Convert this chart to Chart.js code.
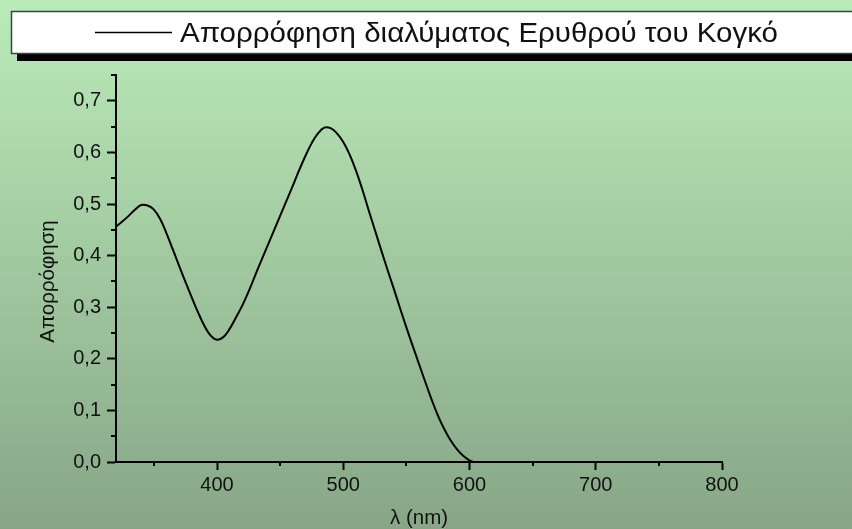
<!DOCTYPE html>
<html>
<head>
<meta charset="utf-8">
<script src="https://cdn.jsdelivr.net/npm/chart.js@4"></script>
<style>
  html, body { margin: 0; padding: 0; background: #a3c9a2; }
  #wrap { width: 852px; height: 529px; position: relative; }
  canvas { display: block; }
</style>
</head>
<body>
<div id="wrap"><canvas id="chart" width="852" height="529"></canvas></div>
<script>
// Absorption spectrum of a Congo red solution (wavelength in nm, absorbance)
const wavelengthNm = [320, 325, 330, 335, 340, 345, 350, 355, 360, 365, 370, 375, 380, 385, 390,
  395, 400, 405, 410, 415, 420, 425, 430, 435, 440, 445, 450, 455, 460, 465, 470, 475, 480, 485,
  490, 495, 500, 505, 510, 515, 520, 525, 530, 535, 540, 545, 550, 555, 560, 565, 570, 575, 580,
  585, 590, 595, 600, 603];
const absorbance = [0.456, 0.466, 0.477, 0.489, 0.498, 0.497, 0.489, 0.471, 0.443, 0.412, 0.380,
  0.349, 0.319, 0.290, 0.264, 0.245, 0.237, 0.242, 0.258, 0.280, 0.303, 0.330, 0.360, 0.390,
  0.419, 0.448, 0.477, 0.506, 0.535, 0.565, 0.593, 0.618, 0.637, 0.648, 0.647, 0.637, 0.620,
  0.596, 0.565, 0.529, 0.489, 0.450, 0.411, 0.373, 0.336, 0.298, 0.261, 0.225, 0.190, 0.155,
  0.121, 0.090, 0.064, 0.042, 0.025, 0.012, 0.003, 0.000];

const seriesLabel = 'Απορρόφηση διαλύματος Ερυθρού του Κογκό';
const xAxisTitle = 'λ (nm)';
const yAxisTitle = 'Απορρόφηση';
const xRange = [320, 800];
const yRange = [0, 0.75];
const xTickValues = [400, 500, 600, 700, 800];
const yTickValues = [0, 0.1, 0.2, 0.3, 0.4, 0.5, 0.6, 0.7];
const xMinorValues = [350, 450, 550, 650, 750];
const yMinorValues = [0.05, 0.15, 0.25, 0.35, 0.45, 0.55, 0.65, 0.75];

const FONT = "'Liberation Sans', Arial, sans-serif";

// Vertical green gradient behind everything
const backgroundPlugin = {
  id: 'bgGradient',
  beforeDraw(chart) {
    const { ctx, width, height } = chart;
    const g = ctx.createLinearGradient(0, 0, 0, height);
    g.addColorStop(0, '#bbebb9');
    g.addColorStop(1, '#87a687');
    ctx.save();
    ctx.fillStyle = g;
    ctx.fillRect(0, 0, width, height);
    ctx.restore();
  }
};

// Short minor ticks halfway between the labelled ones, plus the rotated y title
const axisExtrasPlugin = {
  id: 'axisExtras',
  afterDraw(chart) {
    const { ctx, chartArea } = chart;
    const xs = chart.scales.x, ys = chart.scales.y;
    ctx.save();
    ctx.strokeStyle = '#000';
    ctx.lineWidth = 2;
    ctx.beginPath();
    xMinorValues.forEach(v => {
      const px = Math.round(xs.getPixelForValue(v));
      ctx.moveTo(px, ys.bottom);
      ctx.lineTo(px, ys.bottom + 4);
    });
    yMinorValues.forEach(v => {
      const py = Math.round(ys.getPixelForValue(v));
      ctx.moveTo(xs.left, py);
      ctx.lineTo(xs.left - 5, py);
    });
    ctx.stroke();

    const midY = (chartArea.top + chartArea.bottom) / 2 + 13;
    ctx.translate(53.5, midY);
    ctx.rotate(-Math.PI / 2);
    ctx.fillStyle = '#111';
    ctx.font = '20.5px ' + FONT;
    ctx.textAlign = 'center';
    ctx.textBaseline = 'alphabetic';
    ctx.fillText(yAxisTitle, 0, 0);
    ctx.restore();
  }
};

// Framed legend banner with a drop shadow
const bannerLegendPlugin = {
  id: 'bannerLegend',
  afterDraw(chart) {
    const { ctx, width } = chart;
    const ds = chart.data.datasets[0];
    const bx = 11, by = 11, bh = 42;
    ctx.save();
    ctx.fillStyle = '#000';
    ctx.fillRect(bx + 6, by + 8, width, bh);
    ctx.fillStyle = '#fff';
    ctx.fillRect(bx, by, width, bh);
    ctx.strokeStyle = '#3a463a';
    ctx.lineWidth = 1.5;
    ctx.strokeRect(bx + 0.5, by + 0.5, width + 10, bh);
    ctx.strokeStyle = ds.borderColor;
    ctx.lineWidth = 1.5;
    ctx.beginPath();
    ctx.moveTo(95, 32.5);
    ctx.lineTo(172, 32.5);
    ctx.stroke();
    ctx.fillStyle = '#111';
    ctx.font = '28px ' + FONT;
    ctx.textBaseline = 'alphabetic';
    ctx.textAlign = 'left';
    const w = ctx.measureText(ds.label).width;
    ctx.translate(180, 42.3);
    ctx.scale(598 / w, 1);
    ctx.fillText(ds.label, 0, 0);
    ctx.restore();
  }
};

const decimalComma = v => v.toFixed(1).replace('.', ',');
const tickFont = { family: FONT, size: 20 };

new Chart(document.getElementById('chart'), {
  type: 'scatter',
  data: {
    datasets: [{
      label: seriesLabel,
      data: wavelengthNm.map((x, i) => ({ x, y: absorbance[i] })),
      showLine: true,
      borderColor: '#000',
      borderWidth: 2,
      pointRadius: 0,
      tension: 0.4,
      fill: false
    }]
  },
  options: {
    responsive: false,
    animation: false,
    devicePixelRatio: 1,
    layout: { padding: { left: 0, top: 75, right: 130, bottom: 0 } },
    plugins: {
      legend: { display: false },
      tooltip: { enabled: false }
    },
    scales: {
      x: {
        type: 'linear',
        position: 'bottom',
        min: xRange[0],
        max: xRange[1],
        bounds: 'data',
        afterBuildTicks(s) { s.ticks = xTickValues.map(value => ({ value })); },
        afterFit(s) { s.height = 67; },
        ticks: {
          color: '#111',
          padding: 3,
          maxRotation: 0,
          autoSkip: false,
          font: tickFont,
          callback: v => String(v)
        },
        grid: {
          drawOnChartArea: false,
          drawTicks: true,
          tickLength: 8,
          tickWidth: 2,
          tickColor: '#000'
        },
        border: { display: true, color: '#000', width: 2 },
        title: {
          display: true,
          text: xAxisTitle,
          color: '#111',
          padding: { top: 0, bottom: 0 },
          font: { family: FONT, size: 20.5, lineHeight: 1 }
        }
      },
      y: {
        type: 'linear',
        position: 'left',
        min: yRange[0],
        max: yRange[1],
        bounds: 'data',
        afterBuildTicks(s) { s.ticks = yTickValues.map(value => ({ value })); },
        afterFit(s) { s.width = 116; },
        ticks: {
          color: '#111',
          padding: 6,
          autoSkip: false,
          font: tickFont,
          callback: v => decimalComma(v)
        },
        grid: {
          drawOnChartArea: false,
          drawTicks: true,
          tickLength: 9,
          tickWidth: 2,
          tickColor: '#000'
        },
        border: { display: true, color: '#000', width: 2 },
        title: { display: false }
      }
    }
  },
  plugins: [backgroundPlugin, axisExtrasPlugin, bannerLegendPlugin]
});
</script>
</body>
</html>
